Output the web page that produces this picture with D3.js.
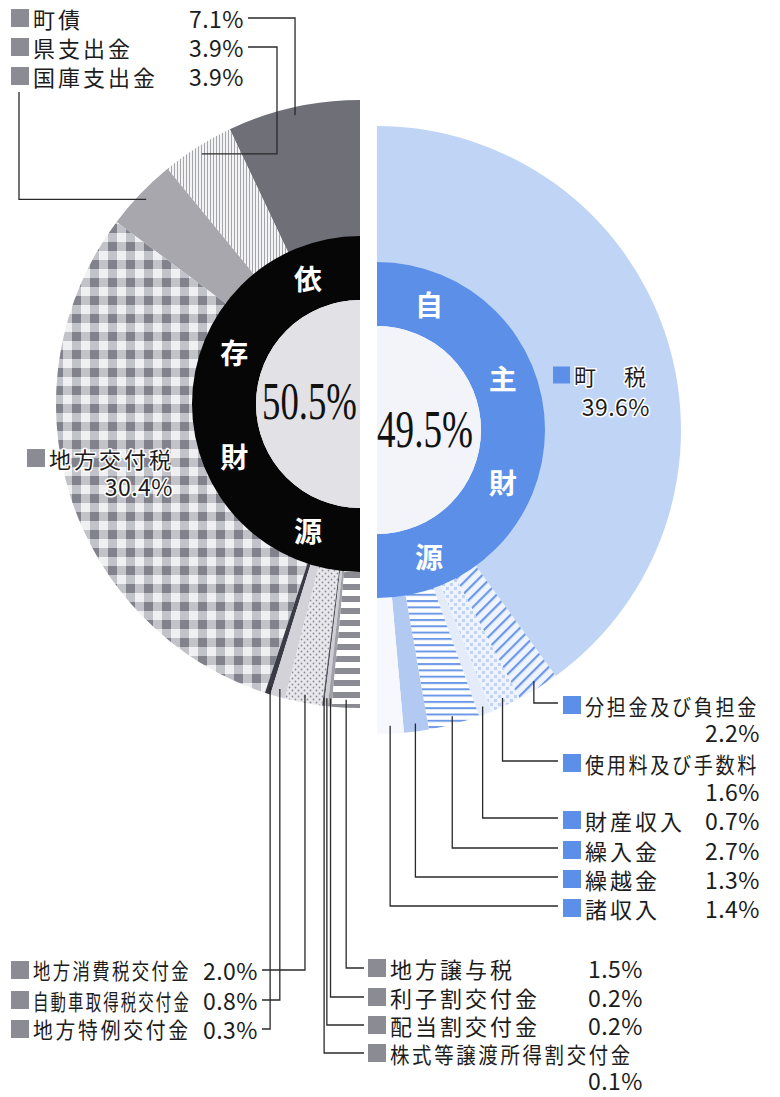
<!DOCTYPE html>
<html>
<head>
<meta charset="utf-8">
<script src="https://cdn.jsdelivr.net/npm/d3@7"></script>
<style>
  body { margin: 0; background: #fff; }
  svg { display: block; }
</style>
</head>
<body>
<div id="chart"></div>
<script>
// 自主財源 (right half)
const ownNames  = ["町　税", "分担金及び負担金", "使用料及び手数料", "財産収入", "繰入金", "繰越金", "諸収入"];
const ownValues = [39.6, 2.2, 1.6, 0.7, 2.7, 1.3, 1.4];

// 依存財源 (left half), counter-clockwise from the top
const depNames  = ["町債", "県支出金", "国庫支出金", "地方交付税", "地方特例交付金", "自動車取得税交付金",
                   "地方消費税交付金", "株式等譲渡所得割交付金", "配当割交付金", "利子割交付金", "地方譲与税"];
const depValues = [7.1, 3.9, 3.9, 30.4, 0.3, 0.8, 2.0, 0.1, 0.2, 0.2, 1.5];

const groupChars  = [["自", "主", "財", "源"], ["依", "存", "財", "源"]];
const groupShares = [49.5, 50.5];

const width = 780, height = 1097;
const R = 304, ringOuter = 168, ringInner = 104;
const rightC = [377, 430], leftC = [360, 404];
const fontSize = 22, charStep = 25;

const pct = v => d3.format(".1f")(v) + "%";

// fills, same order as the names
const ownFill = ["#c0d5f6", "url(#diagBlue)", "url(#dotBlue)", "#e4ecfb", "url(#hBlue)", "#b2c9f2", "#f6f8fe"];
const depFill = ["#6f6f78", "url(#vGrey)", "#a7a7ad", "url(#check)", "#3b3b47", "#d2d2d8",
                 "url(#dotGrey)", "#55555f", "#cdcdd3", "#9f9fa7", "url(#hGrey)"];

// label layout, same order as the names
const ownLabel = [
  {x: 553, y: 375, pctX: 650, pctDy: 31, halo: true, sq: 17},
  {x: 563, y: 705, pctX: 760, pctDy: 27, fit: 174, leader: "right"},
  {x: 563, y: 763, pctX: 760, pctDy: 28, fit: 174, leader: "right"},
  {x: 563, y: 820, pctX: 760, leader: "right"},
  {x: 563, y: 850, pctX: 760, leader: "right"},
  {x: 563, y: 879, pctX: 760, leader: "right"},
  {x: 563, y: 908, pctX: 760, leader: "right"}
];
const depLabel = [
  {x: 11, y: 18, pctX: 244, leader: "top"},
  {x: 11, y: 47, pctX: 244, leader: "top", turnX: 277},
  {x: 11, y: 76, pctX: 244, leader: "under"},
  {x: 27, y: 458, pctX: 173, pctDy: 28, halo: true},
  {x: 11, y: 1029, pctX: 258, fit: 158, leader: "downLeft"},
  {x: 11, y: 1000, pctX: 258, fit: 158, leader: "downLeft"},
  {x: 11, y: 970, pctX: 258, fit: 158, leader: "downLeft"},
  {x: 368, y: 1053, pctX: 643, pctDy: 27, fit: 243, leader: "downRight"},
  {x: 368, y: 1025, pctX: 643, leader: "downRight"},
  {x: 368, y: 997, pctX: 643, leader: "downRight"},
  {x: 368, y: 968, pctX: 643, leader: "downRight"}
];

const svg = d3.select("#chart")
  .append("svg")
  .attr("width", width)
  .attr("height", height)
  .style("font-family", "'Noto Sans CJK JP', 'Noto Sans', sans-serif");

// patterns
const defs = svg.append("defs");

function pattern(id, w, h, bg, rot) {
  const p = defs.append("pattern")
    .attr("id", id)
    .attr("patternUnits", "userSpaceOnUse")
    .attr("width", w).attr("height", h);
  if (rot) p.attr("patternTransform", `rotate(${rot})`);
  p.append("rect").attr("width", w).attr("height", h).attr("fill", bg);
  return p;
}

const ck = pattern("check", 18, 18, "#f0f0f3");
ck.append("rect").attr("width", 9).attr("height", 18).attr("fill", "#c2c2c9");
ck.append("rect").attr("width", 18).attr("height", 9).attr("fill", "#c2c2c9");
ck.append("rect").attr("width", 9).attr("height", 9).attr("fill", "#82828c");

pattern("vGrey", 3, 3, "#f4f4f6")
  .append("rect").attr("width", 1).attr("height", 3).attr("fill", "#a4a4ab");

const dg = pattern("dotGrey", 6, 6, "#e8e8ec");
dg.append("circle").attr("cx", 1.5).attr("cy", 1.5).attr("r", 0.9).attr("fill", "#8a8a93");
dg.append("circle").attr("cx", 4.5).attr("cy", 4.5).attr("r", 0.9).attr("fill", "#8a8a93");

pattern("hGrey", 10, 12, "#ffffff")
  .append("rect").attr("width", 10).attr("height", 6).attr("fill", "#8b8b93");

pattern("diagBlue", 8, 8, "#eef3fd", 45)
  .append("rect").attr("width", 2.2).attr("height", 8).attr("fill", "#6c98e8");

const db = pattern("dotBlue", 8, 8, "#eef3fd");
db.append("rect").attr("x", 1).attr("y", 1).attr("width", 3).attr("height", 3).attr("fill", "#bfd1f5");
db.append("rect").attr("x", 5).attr("y", 5).attr("width", 3).attr("height", 3).attr("fill", "#bfd1f5");

pattern("hBlue", 8, 6.3, "#ffffff")
  .append("rect").attr("width", 8).attr("height", 2).attr("fill", "#6c98e8");

// pies
const ownPie = d3.pie().sort(null).startAngle(0).endAngle(Math.PI)(ownValues);
const depPie = d3.pie().sort(null).startAngle(0).endAngle(-Math.PI)(depValues);

const outerArc = d3.arc().innerRadius(ringOuter - 2).outerRadius(R);
const ringArc = d3.arc().innerRadius(ringInner).outerRadius(ringOuter);
const discArc = d3.arc().innerRadius(0).outerRadius(ringInner);

const pointAt = (c, a, r) => [c[0] + r * Math.sin(a), c[1] - r * Math.cos(a)];

function drawHalf(c, arcs, fills, sign, ringColor, discColor) {
  const g = svg.append("g").attr("transform", `translate(${c[0]},${c[1]})`);
  g.selectAll("path.seg")
    .data(arcs)
    .join("path")
    .attr("class", "seg")
    .attr("d", outerArc)
    .attr("fill", (d, i) => fills[i]);
  g.append("path")
    .attr("d", ringArc({startAngle: 0, endAngle: sign * Math.PI}))
    .attr("fill", ringColor);
  g.append("path")
    .attr("d", discArc({startAngle: 0, endAngle: sign * Math.PI}))
    .attr("fill", discColor);
  return g;
}

const gRight = drawHalf(rightC, ownPie, ownFill, 1, "#5b8fe8", "#f2f4f9");
const gLeft = drawHalf(leftC, depPie, depFill, -1, "#060606", "#e2e2e6");

// ring characters
[gRight, gLeft].forEach((g, k) => {
  const sign = k === 0 ? 1 : -1;
  const rm = (ringInner + ringOuter) / 2;
  g.selectAll("text.ring")
    .data(groupChars[k])
    .join("text")
    .attr("class", "ring")
    .attr("x", (d, i) => rm * Math.sin(sign * (i + 0.5) * Math.PI / 4))
    .attr("y", (d, i) => -rm * Math.cos(sign * (i + 0.5) * Math.PI / 4))
    .attr("text-anchor", "middle")
    .attr("dominant-baseline", "central")
    .attr("fill", "#fff")
    .style("font-size", "28px")
    .style("font-weight", "700")
    .text(d => d);
});

// centre percentages
gRight.append("text")
  .attr("x", 0).attr("y", 17)
  .attr("textLength", 96).attr("lengthAdjust", "spacingAndGlyphs")
  .style("font-family", "'Liberation Serif', serif")
  .style("font-size", "52px")
  .attr("fill", "#111")
  .text(pct(groupShares[0]));

gLeft.append("text")
  .attr("x", -98).attr("y", 15)
  .attr("textLength", 95).attr("lengthAdjust", "spacingAndGlyphs")
  .style("font-family", "'Liberation Serif', serif")
  .style("font-size", "52px")
  .attr("fill", "#111")
  .text(pct(groupShares[1]));

// leaders
const lines = svg.append("g")
  .attr("fill", "none")
  .attr("stroke", "#2a2a2a")
  .attr("stroke-width", 1.3);

function leader(c, arc, L) {
  if (!L.leader) return;
  const mid = (arc.startAngle + arc.endAngle) / 2;
  const p = pointAt(c, mid, R - 8);
  let pts;
  if (L.leader === "right") pts = [p, [p[0], L.y - 2], [L.x - 5, L.y - 2]];
  if (L.leader === "downLeft") pts = [p, [p[0], L.y], [L.pctX + 4, L.y]];
  if (L.leader === "downRight") pts = [p, [p[0], L.y], [L.x - 4, L.y]];
  if (L.leader === "top") {
    pts = L.turnX
      ? [[L.pctX + 4, L.y], [L.turnX, L.y], [L.turnX, p[1]], p]
      : [[L.pctX + 4, L.y], [p[0], L.y], p];
  }
  if (L.leader === "under") pts = [[L.x + 8, L.y + 16], [L.x + 8, p[1]], p];
  lines.append("path").attr("d", d3.line()(pts));
}

ownPie.forEach((d, i) => leader(rightC, d, ownLabel[i]));
depPie.forEach((d, i) => leader(leftC, d, depLabel[i]));

// labels
const labels = svg.append("g").attr("fill", "#1c1c1c");

function label(name, value, L, sqColor) {
  const s = L.sq || 18;
  labels.append("rect")
    .attr("x", L.x).attr("y", L.y - s / 2)
    .attr("width", s).attr("height", s)
    .attr("fill", sqColor);
  // long names are squeezed horizontally to the width they take in the original
  const n = name.length;
  const sx = L.fit ? L.fit / (n * charStep) : 1;
  const t = labels.append("text")
    .attr("transform", `translate(${L.x + s + 4},${L.y}) scale(${sx},1)`)
    .attr("dominant-baseline", "central")
    .style("font-size", fontSize + "px")
    .style("letter-spacing", (charStep - fontSize) + "px")
    .text(name);
  const p = labels.append("text")
    .attr("x", L.pctX)
    .attr("y", L.y + (L.pctDy || 0))
    .attr("text-anchor", "end")
    .attr("dominant-baseline", "central")
    .style("font-size", (fontSize + 1) + "px")
    .style("letter-spacing", "0.5px")
    .text(pct(value));
  if (L.halo) {
    [t, p].forEach(e => e.attr("stroke", "#fff").attr("stroke-width", 3)
      .attr("stroke-linejoin", "round").style("paint-order", "stroke"));
  }
}

ownNames.forEach((n, i) => label(n, ownValues[i], ownLabel[i], "#5b8fe8"));
depNames.forEach((n, i) => label(n, depValues[i], depLabel[i], "#8b8b94"));
</script>
</body>
</html>
